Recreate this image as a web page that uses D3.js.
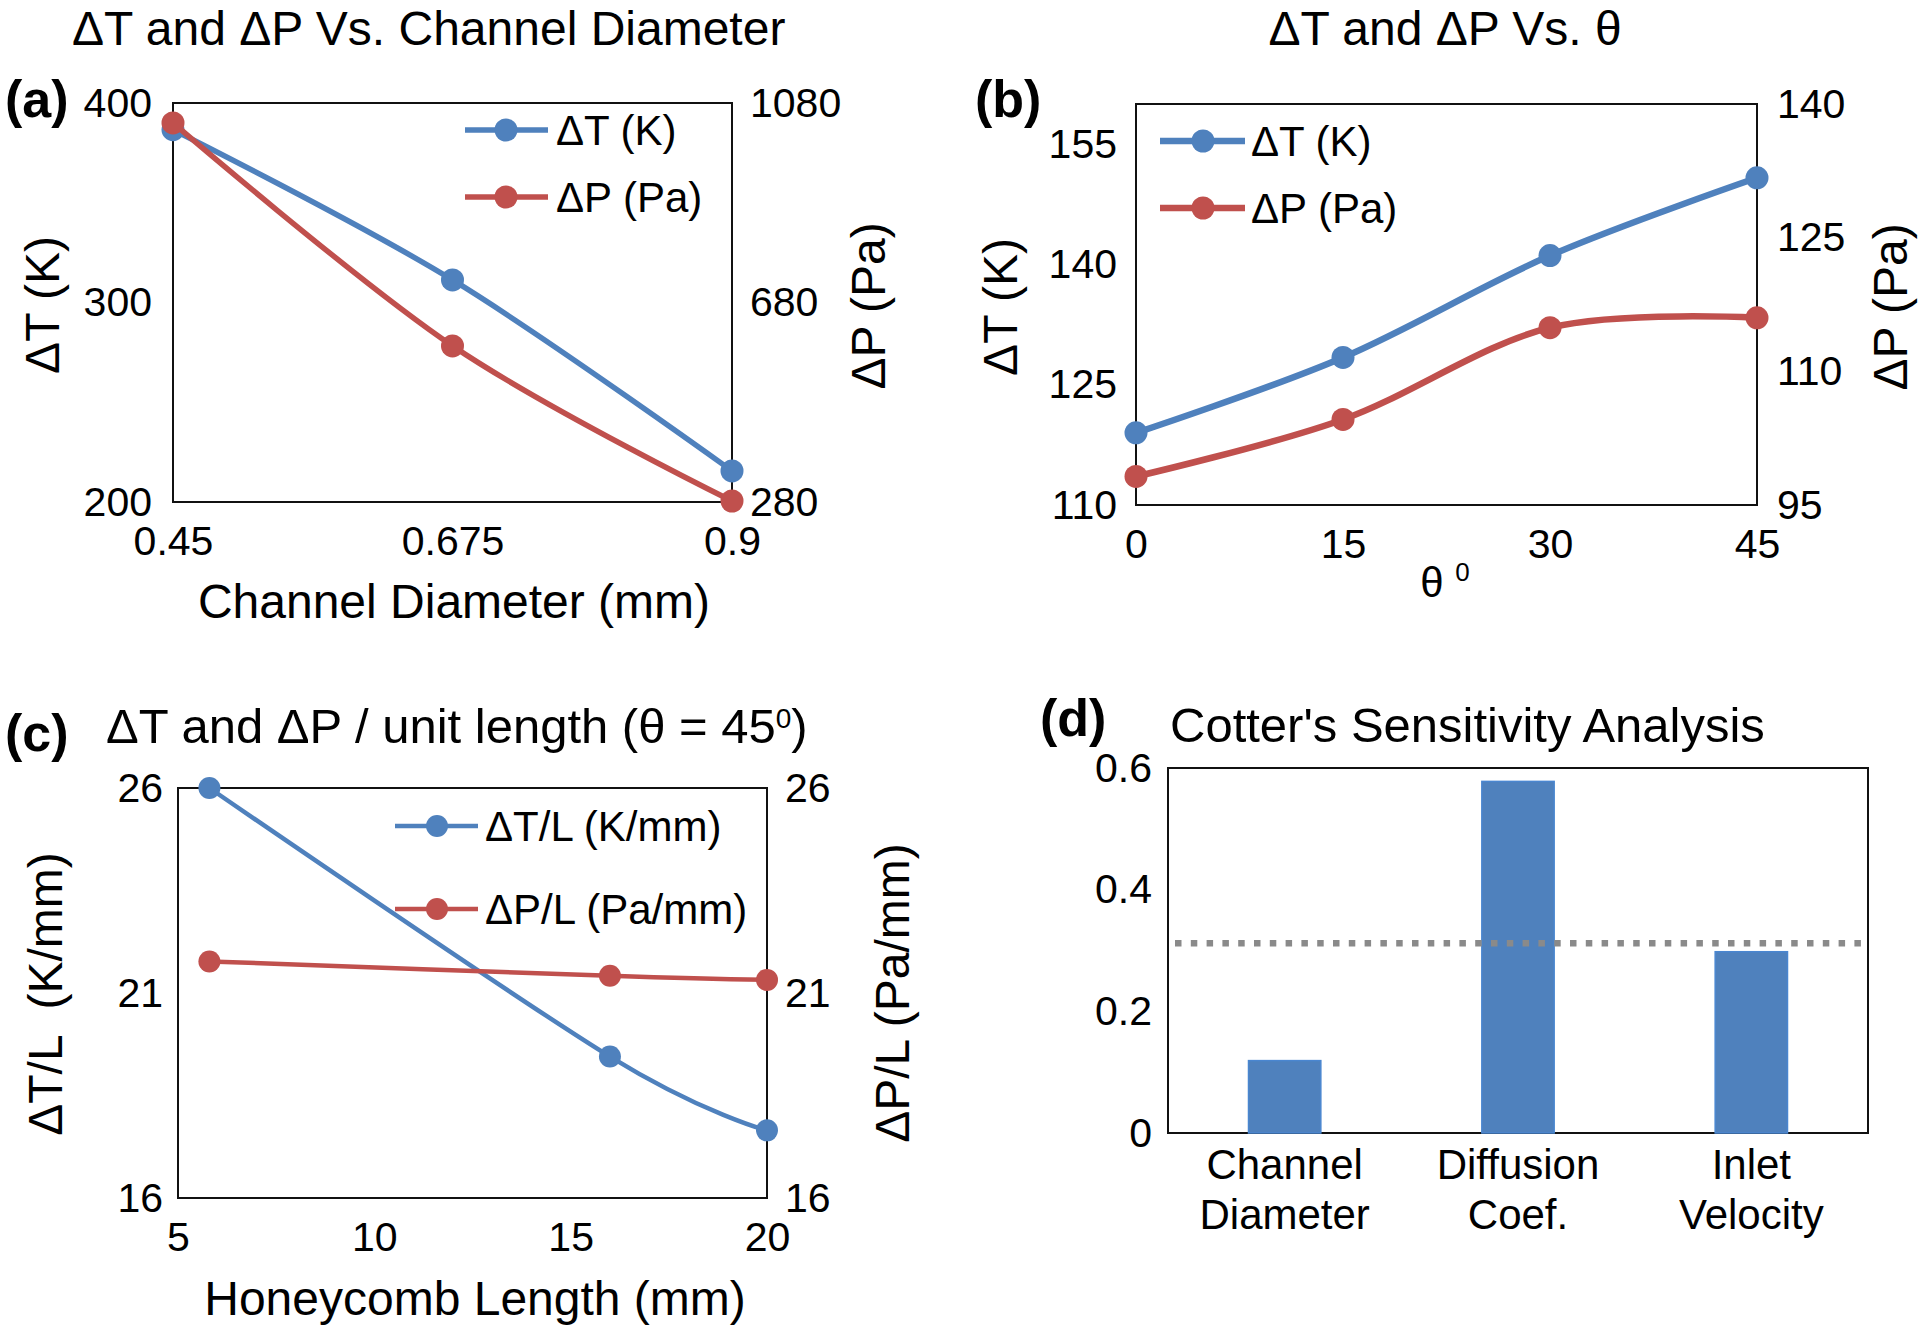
<!DOCTYPE html>
<html>
<head>
<meta charset="utf-8">
<script src="https://cdn.jsdelivr.net/npm/d3@7"></script>
<style>
  html, body { margin: 0; padding: 0; background: #fff; }
  svg { display: block; }
</style>
</head>
<body>
<script>
// ---------------- DATA ----------------
// (a) Channel diameter
const diamX = [0.45, 0.675, 0.9];
const diamDT = [386.6, 311.3, 215.6];
const diamDP = [1040, 593, 282];
const diamXTicks = [0.45, 0.675, 0.9];
const diamDTTicks = [200, 300, 400];
const diamDPTicks = [280, 680, 1080];

// (b) Theta
const thetaX = [0, 15, 30, 45];
const thetaDT = [119.0, 128.4, 141.1, 150.8];
const thetaDP = [98.2, 104.6, 114.9, 116.0];
const thetaXTicks = [0, 15, 30, 45];
const thetaDTTicks = [110, 125, 140, 155];
const thetaDPTicks = [95, 110, 125, 140];

// (c) Honeycomb length
const lengthX = [5.8, 16, 20];
const lengthDTL = [26.0, 19.45, 17.65];
const lengthDPL = [21.77, 21.42, 21.32];
const lengthXTicks = [5, 10, 15, 20];
const lengthDTLTicks = [16, 21, 26];
const lengthDPLTicks = [16, 21, 26];

// (d) Cotter's sensitivity
const sensCategories = ["Channel Diameter", "Diffusion Coef.", "Inlet Velocity"];
const sensLabelLines = [["Channel", "Diameter"], ["Diffusion", "Coef."], ["Inlet", "Velocity"]];
const sensValues = [0.119, 0.578, 0.298];
const sensThreshold = 0.312;
const sensTicks = [0, 0.2, 0.4, 0.6];

// ---------------- STYLE ----------------
const FONT = "'Liberation Sans', Arial, Helvetica, sans-serif";
const BLUE = "#4F81BD", RED = "#C0504D";
const TICK_FS = 41, TITLE_FS = 48, AXIS_FS = 48, LEG_FS = 42, PANEL_FS = 52;

const svg = d3.select("body").append("svg")
  .attr("width", 1920).attr("height", 1329)
  .style("background", "#fff");

function styleAxis(g) {
  g.select(".domain").remove();
  g.attr("font-size", TICK_FS).attr("font-family", FONT);
  g.selectAll(".tick text").attr("fill", "#000");
}

function addText(x, y, txt, opts = {}) {
  return svg.append("text")
    .attr("x", x).attr("y", y)
    .attr("font-family", FONT)
    .attr("font-size", opts.size || TITLE_FS)
    .attr("font-weight", opts.bold ? "bold" : "normal")
    .attr("text-anchor", opts.anchor || "start")
    .attr("fill", "#000")
    .text(txt);
}

function addRotated(cx, cy, txt, size) {
  svg.append("text")
    .attr("transform", `translate(${cx},${cy}) rotate(-90)`)
    .attr("font-family", FONT).attr("font-size", size)
    .attr("text-anchor", "middle").attr("dy", "0.35em")
    .attr("fill", "#000").style("white-space", "pre")
    .text(txt);
}

function linePanel(p) {
  const x = d3.scaleLinear().domain(p.xDomain).range([p.box.x0, p.box.x1]);
  const yL = d3.scaleLinear().domain(p.yLDomain).range([p.box.y1, p.box.y0]);
  const yR = d3.scaleLinear().domain(p.yRDomain).range([p.box.y1, p.box.y0]);
  const fmt = d => String(d);

  svg.append("g").attr("transform", `translate(0,${p.box.y1})`)
    .call(d3.axisBottom(x).tickValues(p.xTicks).tickSize(0).tickPadding(24).tickFormat(fmt))
    .call(styleAxis);
  svg.append("g").attr("transform", `translate(${p.box.x0},0)`)
    .call(d3.axisLeft(yL).tickValues(p.yLTicks).tickSize(0).tickPadding(p.padL).tickFormat(fmt))
    .call(styleAxis);
  svg.append("g").attr("transform", `translate(${p.box.x1},0)`)
    .call(d3.axisRight(yR).tickValues(p.yRTicks).tickSize(0).tickPadding(p.padR).tickFormat(fmt))
    .call(styleAxis);

  svg.append("rect")
    .attr("x", p.box.x0).attr("y", p.box.y0)
    .attr("width", p.box.x1 - p.box.x0).attr("height", p.box.y1 - p.box.y0)
    .attr("fill", "none").attr("stroke", "#111").attr("stroke-width", 2);

  p.series.forEach(s => {
    const ys = s.axis === "L" ? yL : yR;
    const pts = d3.zip(s.xs, s.ys);
    const line = d3.line().x(d => x(d[0])).y(d => ys(d[1])).curve(d3.curveCatmullRom.alpha(0));
    svg.append("path").datum(pts)
      .attr("d", line).attr("fill", "none")
      .attr("stroke", s.color).attr("stroke-width", p.lw)
      .attr("stroke-linejoin", "round").attr("stroke-linecap", "round");
    svg.append("g").selectAll("circle").data(pts).join("circle")
      .attr("cx", d => x(d[0])).attr("cy", d => ys(d[1]))
      .attr("r", p.r).attr("fill", s.color);
  });

  // legend
  p.series.forEach((s, i) => {
    const ly = p.legend.y[i];
    svg.append("line")
      .attr("x1", p.legend.x0).attr("x2", p.legend.x1)
      .attr("y1", ly).attr("y2", ly)
      .attr("stroke", s.color).attr("stroke-width", p.lw);
    svg.append("circle").attr("cx", p.legend.mx).attr("cy", ly).attr("r", p.r).attr("fill", s.color);
    svg.append("text")
      .attr("x", p.legend.tx).attr("y", ly).attr("dy", "0.35em")
      .attr("font-family", FONT).attr("font-size", LEG_FS).attr("fill", "#000")
      .text(s.label);
  });
}

// ---------------- (a) ----------------
linePanel({
  box: { x0: 173, x1: 732, y0: 103, y1: 502 },
  xDomain: [0.45, 0.9], yLDomain: [200, 400], yRDomain: [280, 1080],
  xTicks: diamXTicks, yLTicks: diamDTTicks, yRTicks: diamDPTicks,
  padL: 21, padR: 18, lw: 5.5, r: 11.5,
  series: [
    { xs: diamX, ys: diamDT, axis: "L", color: BLUE, label: "ΔT (K)" },
    { xs: diamX, ys: diamDP, axis: "R", color: RED, label: "ΔP (Pa)" }
  ],
  legend: { x0: 465, x1: 548, mx: 506, tx: 556, y: [130, 197] }
});
addText(72, 45, "ΔT and ΔP Vs. Channel Diameter");
addText(5, 117, "(a)", { size: PANEL_FS, bold: true });
addText(454, 618, "Channel Diameter (mm)", { anchor: "middle" });
addRotated(42, 305, "ΔT (K)", AXIS_FS);
addRotated(868, 306, "ΔP (Pa)", AXIS_FS);

// ---------------- (b) ----------------
linePanel({
  box: { x0: 1136, x1: 1757, y0: 104, y1: 505 },
  xDomain: [0, 45], yLDomain: [110, 160], yRDomain: [95, 140],
  xTicks: thetaXTicks, yLTicks: thetaDTTicks, yRTicks: thetaDPTicks,
  padL: 19, padR: 20, lw: 6.5, r: 11.5,
  series: [
    { xs: thetaX, ys: thetaDT, axis: "L", color: BLUE, label: "ΔT (K)" },
    { xs: thetaX, ys: thetaDP, axis: "R", color: RED, label: "ΔP (Pa)" }
  ],
  legend: { x0: 1160, x1: 1245, mx: 1203, tx: 1251, y: [141, 208] }
});
addText(1445, 45, "ΔT and ΔP Vs. θ", { anchor: "middle" });
addText(975, 117, "(b)", { size: PANEL_FS, bold: true });
{
  const t = addText(1445, 597, null, { anchor: "middle", size: 42 });
  t.append("tspan").text("θ ");
  t.append("tspan").attr("font-size", 26).attr("dy", -16).text("0");
}
addRotated(1000, 307, "ΔT (K)", AXIS_FS);
addRotated(1890, 307, "ΔP (Pa)", AXIS_FS);

// ---------------- (c) ----------------
linePanel({
  box: { x0: 178, x1: 767, y0: 788, y1: 1198 },
  xDomain: [5, 20], yLDomain: [16, 26], yRDomain: [16, 26],
  xTicks: lengthXTicks, yLTicks: lengthDTLTicks, yRTicks: lengthDPLTicks,
  padL: 15, padR: 18, lw: 4.5, r: 11,
  series: [
    { xs: lengthX, ys: lengthDTL, axis: "L", color: BLUE, label: "ΔT/L (K/mm)" },
    { xs: lengthX, ys: lengthDPL, axis: "R", color: RED, label: "ΔP/L (Pa/mm)" }
  ],
  legend: { x0: 395, x1: 478, mx: 437, tx: 485, y: [826, 909] }
});
{
  const t = addText(106, 743, null, { size: 49 });
  t.append("tspan").text("ΔT and ΔP / unit length (θ = 45");
  t.append("tspan").attr("font-size", 28).attr("dy", -15).text("0");
  t.append("tspan").attr("dy", 15).text(")");
}
addText(5, 751, "(c)", { size: PANEL_FS, bold: true });
addText(475, 1315, "Honeycomb Length (mm)", { anchor: "middle" });
addRotated(45, 994, "ΔT/L  (K/mm)", AXIS_FS);
addRotated(892, 993, "ΔP/L (Pa/mm)", AXIS_FS);

// ---------------- (d) ----------------
{
  const box = { x0: 1168, x1: 1868, y0: 768, y1: 1133 };
  const x = d3.scaleBand().domain(sensCategories).range([box.x0, box.x1])
    .paddingInner(0.69).paddingOuter(0.345);
  const y = d3.scaleLinear().domain([0, 0.6]).range([box.y1, box.y0]);

  svg.append("g").attr("transform", `translate(${box.x0},0)`)
    .call(d3.axisLeft(y).tickValues(sensTicks).tickSize(0).tickPadding(16).tickFormat(d => String(d)))
    .call(styleAxis);

  const xa = svg.append("g").attr("transform", `translate(0,${box.y1})`)
    .call(d3.axisBottom(x).tickSize(0).tickPadding(0))
    .call(styleAxis);
  xa.attr("font-size", 42);
  xa.selectAll(".tick text").each(function(d, i) {
    const t = d3.select(this);
    t.text(null).attr("y", 0).attr("dy", null);
    const lines = sensLabelLines[i];
    t.append("tspan").attr("x", 0).attr("y", 46).text(lines[0]);
    t.append("tspan").attr("x", 0).attr("y", 96).text(lines[1]);
  });

  svg.append("rect")
    .attr("x", box.x0).attr("y", box.y0)
    .attr("width", box.x1 - box.x0).attr("height", box.y1 - box.y0)
    .attr("fill", "none").attr("stroke", "#111").attr("stroke-width", 2);

  svg.append("g").selectAll("rect").data(sensValues).join("rect")
    .attr("x", (d, i) => x(sensCategories[i]))
    .attr("width", x.bandwidth())
    .attr("y", d => y(d))
    .attr("height", d => y(0) - y(d))
    .attr("fill", BLUE).attr("stroke", "#4a86d0").attr("stroke-width", 1.5);

  svg.append("line")
    .attr("x1", box.x0 + 7).attr("x2", box.x1 - 6)
    .attr("y1", y(sensThreshold)).attr("y2", y(sensThreshold))
    .attr("stroke", "#8a8a8a").attr("stroke-width", 6.5)
    .attr("stroke-dasharray", "6.5,9.3");

  addText(1170, 742, "Cotter's Sensitivity Analysis", { size: 49 });
  addText(1040, 736, "(d)", { size: PANEL_FS, bold: true });
}
</script>
</body>
</html>
